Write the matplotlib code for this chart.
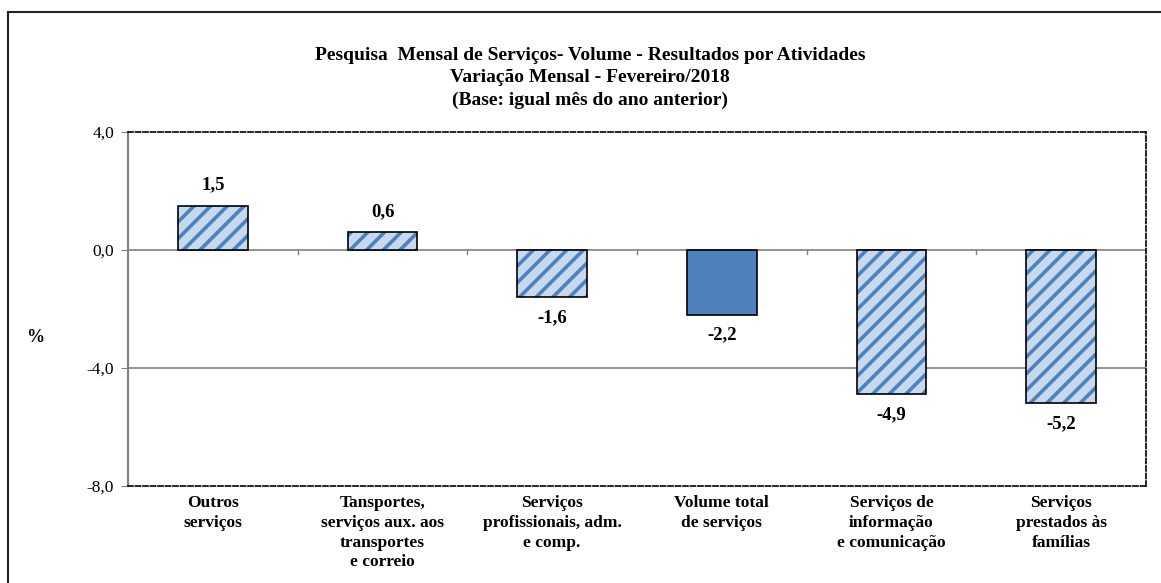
import numpy as np
import matplotlib.pyplot as plt
from matplotlib.lines import Line2D

plt.rcParams['font.family'] = ['Liberation Serif', 'DejaVu Serif']
plt.rcParams['hatch.linewidth'] = 2.6

# Dados
categorias = ['Outros\nserviços',
              'Tansportes,\nserviços aux. aos\ntransportes\ne correio',
              'Serviços\nprofissionais, adm.\ne comp.',
              'Volume total\nde serviços',
              'Serviços de\ninformação\ne comunicação',
              'Serviços\nprestados às\nfamílias']
valores = [1.5, 0.6, -1.6, -2.2, -4.9, -5.2]
destaque = [False, False, False, True, False, False]
yticks = [4.0, 0.0, -4.0, -8.0]

azul = '#4f81bd'
azul_claro = '#c6d9f1'

fig = plt.figure(figsize=(11.61, 5.83), dpi=100)
ax = fig.add_axes([128 / 1161, 1 - 486 / 583, 1018 / 1161, 354.3 / 583])

x = np.arange(len(valores))
for xi, v, d in zip(x, valores, destaque):
    if d:
        ax.bar(xi, v, width=0.41, color=azul, edgecolor='black', linewidth=1.2, zorder=3)
    else:
        ax.bar(xi, v, width=0.41, color=azul_claro, edgecolor=azul, hatch='//',
               linewidth=0, zorder=3)
        ax.bar(xi, v, width=0.41, fill=False, edgecolor='black', linewidth=1.2, zorder=4)
    rotulo = f'{v:.1f}'.replace('.', ',')
    if v >= 0:
        ax.text(xi, v + 0.4, rotulo, ha='center', va='bottom',
                fontsize=13.5, fontweight='bold')
    else:
        ax.text(xi, v - 0.4, rotulo, ha='center', va='top',
                fontsize=13.5, fontweight='bold')

ax.set_xlim(-0.5, len(valores) - 0.5)
ax.set_ylim(-8, 4)
ax.set_yticks(yticks)
ax.set_yticklabels([f'{t:.1f}'.replace('.', ',') for t in yticks], fontsize=12.5)
ax.tick_params(axis='y', length=5, color='#808080', pad=5)

# linhas de grade
for t in [0.0, -4.0]:
    ax.axhline(t, color='#808080', linewidth=1.2, zorder=1)

# marcas entre categorias no eixo zero
for b in np.arange(0.5, len(valores) - 0.5, 1):
    ax.plot([b, b], [0, -0.15], color='#808080', linewidth=1, zorder=2)

ax.set_xticks([])
for lado in ['top', 'bottom', 'right']:
    ax.spines[lado].set_linestyle((0, (3, 1.5)))
    ax.spines[lado].set_color('black')
    ax.spines[lado].set_linewidth(1.2)
ax.spines['left'].set_color('#808080')
ax.spines['left'].set_linewidth(1.5)

for xi, c in zip(x, categorias):
    ax.text(xi, -8.3, c, ha='center', va='top', fontsize=12.5, fontweight='bold',
            linespacing=1.32)

fig.text(35 / 1161, 1 - 338 / 583, '%', fontsize=13, fontweight='bold',
         ha='center', va='center')

fig.text(590 / 1161, 1 - 78 / 583,
         'Pesquisa  Mensal de Serviços- Volume - Resultados por Atividades\n'
         'Variação Mensal - Fevereiro/2018\n'
         '(Base: igual mês do ano anterior)',
         ha='center', va='center', fontsize=14, fontweight='bold', linespacing=1.38)

# moldura externa
x0 = 8 / 1161
y0 = 1 - 12 / 583
fig.add_artist(Line2D([x0, 1], [y0, y0], transform=fig.transFigure,
                      color='#222222', linewidth=1.5))
fig.add_artist(Line2D([x0, x0], [0, y0], transform=fig.transFigure,
                      color='#222222', linewidth=1.5))

fig.savefig('out.png', dpi=100)
